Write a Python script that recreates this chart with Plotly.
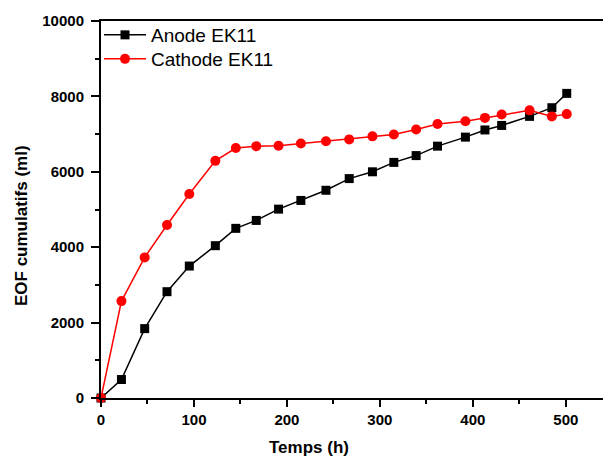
import plotly.graph_objects as go

temps = [0, 22, 47, 71, 95, 123, 145, 167, 191, 215, 242, 267, 292, 315, 339, 362, 392, 413, 431, 461, 485, 501]
anode = [0, 490, 1840, 2820, 3500, 4040, 4500, 4710, 5010, 5240, 5510, 5820, 6000, 6250, 6430, 6680, 6920, 7110, 7230, 7470, 7700, 8080]
cathode = [0, 2570, 3730, 4590, 5410, 6290, 6630, 6680, 6690, 6750, 6810, 6860, 6940, 6990, 7120, 7270, 7340, 7430, 7520, 7630, 7470, 7530]

FONT = "Liberation Sans, Arial, sans-serif"

fig = go.Figure()
fig.add_trace(go.Scatter(x=temps, y=anode, mode="lines+markers", name="Anode EK11",
                         line=dict(color="black", width=1.5),
                         marker=dict(symbol="square", size=9, color="black"),
                         cliponaxis=False, legend="legend"))
fig.add_trace(go.Scatter(x=temps, y=cathode, mode="lines+markers", name="Cathode EK11",
                         line=dict(color="#ff0000", width=1.5),
                         marker=dict(symbol="circle", size=10, color="#ff0000"),
                         cliponaxis=False, legend="legend2"))

leg_common = dict(xanchor="left", yanchor="middle", bgcolor="rgba(0,0,0,0)",
                  font=dict(size=19, family=FONT), itemwidth=42, borderwidth=0)

fig.update_layout(
    width=603, height=459,
    margin=dict(l=101, r=0, t=21, b=61),
    plot_bgcolor="white", paper_bgcolor="white",
    font=dict(family=FONT, color="black"),
    showlegend=True,
    legend=dict(x=-2 / 502, y=(398 - 35) / 377, **leg_common),
    legend2=dict(x=-2 / 502, y=(398 - 59) / 377, **leg_common),
    xaxis=dict(range=[0, 540], showgrid=False, zeroline=False, automargin=False,
               showline=True, linewidth=2, linecolor="black", mirror=True,
               ticks="outside", ticklen=7, tickwidth=1.5, tickcolor="black",
               dtick=100, tick0=0, tickformat="d",
               tickfont=dict(size=15, family=FONT, weight="bold"),
               minor=dict(dtick=50, ticks="outside", ticklen=4, tickwidth=1.5, tickcolor="black", showgrid=False)),
    yaxis=dict(range=[0, 10000], showgrid=False, zeroline=False, automargin=False,
               showline=True, linewidth=2, linecolor="black",
               ticks="outside", ticklen=8, tickwidth=1.5, tickcolor="black",
               dtick=2000, tick0=0, tickformat="d", ticklabelstandoff=4,
               tickfont=dict(size=15, family=FONT, weight="bold"),
               minor=dict(dtick=1000, ticks="outside", ticklen=4, tickwidth=1.5, tickcolor="black", showgrid=False)),
)

fig.add_annotation(text="<b>Temps (h)</b>", xref="paper", yref="paper",
                   x=(309 - 101) / 502, y=-(447.5 - 398) / 377, xanchor="center", yanchor="middle",
                   showarrow=False, font=dict(size=17, family=FONT))
fig.add_annotation(text="<b>EOF cumulatifs (ml)</b>", xref="paper", yref="paper",
                   x=-(101 - 22) / 502, y=(398 - 226) / 377, xanchor="center", yanchor="middle", textangle=-90,
                   showarrow=False, font=dict(size=17, family=FONT))

fig.write_html("out.html", config={"displayModeBar": False},
               post_script="document.body.style.margin='0';document.body.style.padding='0';")
